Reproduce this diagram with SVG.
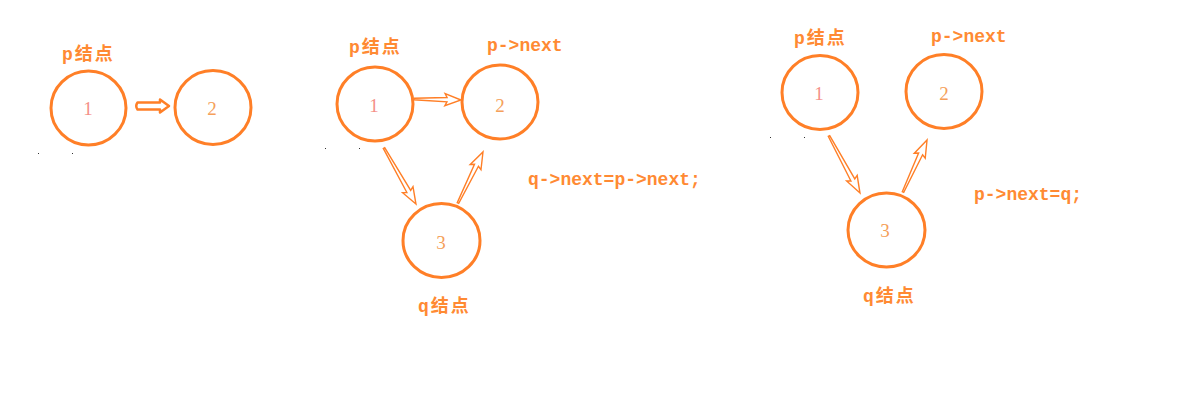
<svg xmlns="http://www.w3.org/2000/svg" width="1196" height="408" viewBox="0 0 1196 408">
<style>
.node{fill:none;stroke:#ff7f27;stroke-width:3}
.lbl{font-family:"Liberation Mono","Noto Sans CJK SC",monospace;font-weight:bold;font-size:18px;fill:#ff8a33}
.cjk{letter-spacing:2px}
.num{font-family:"Liberation Serif","Noto Serif",serif;font-size:19px;text-anchor:middle}
.n1{fill:#f59088}
.n2{fill:#f5a05a}
.arr{fill:#fff;stroke:#ff7f27;stroke-width:1.4;stroke-linejoin:miter}
.dot{fill:#333}
</style>
<rect width="1196" height="408" fill="#fff"/>

<g id="panel1-p">
<text class="lbl cjk" x="62" y="60">p结点</text>
<ellipse class="node" cx="88.5" cy="108" rx="37.5" ry="37"/>
<text class="num n1" x="88" y="115">1</text>
</g>
<g id="panel1-n2">
<ellipse class="node" cx="213" cy="107.5" rx="38" ry="37"/>
<text class="num n2" x="212" y="115">2</text>
</g>

<g id="panel2-p">
<text class="lbl cjk" x="349" y="53">p结点</text>
<ellipse class="node" cx="375" cy="104" rx="38" ry="37"/>
<text class="num n1" x="374" y="112">1</text>
</g>
<g id="panel2-n2">
<text class="lbl" x="487" y="51">p-&gt;next</text>
<ellipse class="node" cx="500" cy="102" rx="38" ry="37"/>
<text class="num n2" x="500" y="112">2</text>
</g>
<g id="panel2-q">
<ellipse class="node" cx="441.5" cy="240.5" rx="38.5" ry="37"/>
<text class="num n2" x="441" y="249">3</text>
<text class="lbl cjk" x="418" y="312">q结点</text>
</g>
<g id="panel2-code">
<text class="lbl" x="528" y="185">q-&gt;next=p-&gt;next;</text>
</g>

<g id="panel3-p">
<text class="lbl cjk" x="794" y="44">p结点</text>
<ellipse class="node" cx="820" cy="92.5" rx="38" ry="37"/>
<text class="num n1" x="819" y="100">1</text>
</g>
<g id="panel3-n2">
<text class="lbl" x="931" y="42">p-&gt;next</text>
<ellipse class="node" cx="944" cy="91.5" rx="38" ry="37"/>
<text class="num n2" x="944" y="100">2</text>
</g>
<g id="panel3-q">
<ellipse class="node" cx="886.5" cy="230" rx="38.5" ry="37"/>
<text class="num n2" x="885" y="237">3</text>
<text class="lbl cjk" x="863" y="302">q结点</text>
</g>
<g id="panel3-code">
<text class="lbl" x="974" y="200">p-&gt;next=q;</text>
</g>

<g id="connectors">
<path d="M137.5,102.5 L160,102.5 L160,99.5 L169,106 L160,112.5 L160,109.5 L137.5,109.5 Q135,106 137.5,102.5 Z" fill="#fff" stroke="#ff7f27" stroke-width="2.5" stroke-linejoin="round"/>
<polygon class="arr" transform="translate(414,99) rotate(1.2)" points="0,-0.8 33,-2.2 31,-6 47,0 31,6 33,2.2 0,0.8"/>
<polygon class="arr" transform="translate(384,148) rotate(60.3)" points="0,-0.8 50,-2.2 48,-6 64.5,0 48,6 50,2.2 0,0.8"/>
<polygon class="arr" transform="translate(458,203) rotate(-63.9)" points="0,-0.8 42,-2.2 40,-6 56.8,0 40,6 42,2.2 0,0.8"/>
<polygon class="arr" transform="translate(829,136) rotate(61.5)" points="0,-0.8 50,-2.2 48,-6 64.9,0 48,6 50,2.2 0,0.8"/>
<polygon class="arr" transform="translate(903,192) rotate(-65.2)" points="0,-0.8 42,-2.2 40,-6 57.3,0 40,6 42,2.2 0,0.8"/>
</g>

<g id="specks">
<rect class="dot" x="38" y="153" width="1" height="1"/>
<rect class="dot" x="72" y="153" width="1" height="1"/>
<rect class="dot" x="325" y="148" width="1" height="1"/>
<rect class="dot" x="359" y="148" width="1" height="1"/>
<rect class="dot" x="770" y="137" width="1" height="1"/>
<rect class="dot" x="804" y="137" width="1" height="1"/>
</g>
</svg>
